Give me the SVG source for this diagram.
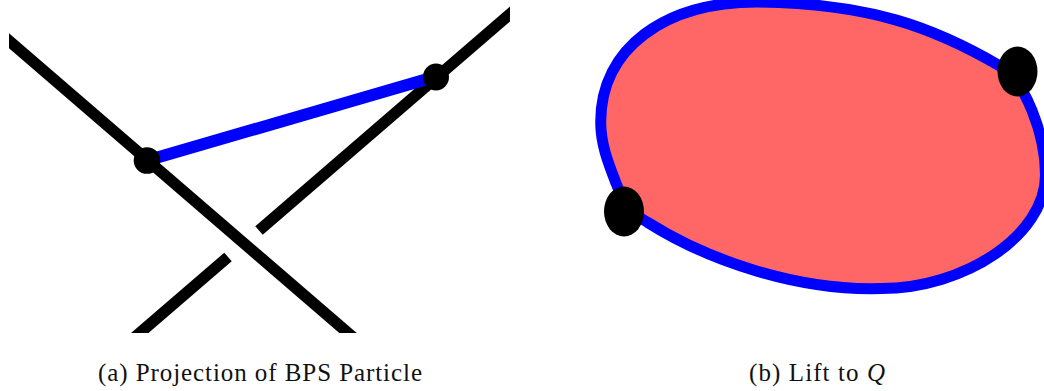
<svg xmlns="http://www.w3.org/2000/svg" width="1044" height="391" viewBox="0 0 1044 391">
<style>
.k{fill:none;stroke:#000;stroke-width:11.4}
.b{stroke:#0000ff;stroke-width:12;fill:none}
.d{fill:#000}
.t{font-family:"Liberation Serif","Times New Roman",serif;font-size:25px;fill:#111}
</style>
<defs>
<clipPath id="ca"><rect x="9" y="0" width="501" height="333"/></clipPath>
<filter id="soft" x="-5%" y="-5%" width="110%" height="110%"><feGaussianBlur stdDeviation="0.6"/></filter>
</defs>
<rect width="1044" height="391" fill="#fff"/>
<g id="connectors" clip-path="url(#ca)">
<line id="strand-over" class="k" x1="0" y1="33" x2="360" y2="343.3"/>
<line id="strand-upper" class="k" x1="520" y1="5.4" x2="259" y2="230.5"/>
<line id="strand-lower" class="k" x1="228" y1="257" x2="120" y2="350"/>
<line id="particle" class="b" x1="147" y1="160.5" x2="436" y2="76.5"/>
</g>
<g id="node-a1"><circle class="d" cx="147" cy="160.5" r="13.3"/></g>
<g id="node-a2"><ellipse class="d" cx="436" cy="77" rx="13" ry="13.4"/></g>
<g id="lift" filter="url(#soft)">
<path id="disc" d="M600.7 122C600.7 48 665 2 757 2C870 3 935 28 1000 66C1025 80 1045.5 135 1045.5 175C1045.5 235 965 288.5 881 288.5C800 291 710 262 647 222C632 214 622 200 616 183C609 165 600.7 145 600.7 122Z" fill="#ff6666" stroke="#0000ff" stroke-width="11"/>
<g id="node-b1"><ellipse class="d" cx="624" cy="211.5" rx="20" ry="25"/></g>
<g id="node-b2"><ellipse class="d" cx="1017.5" cy="71.5" rx="20" ry="25"/></g>
</g>
<text id="caption-a" class="t" x="98" y="381" textLength="324" lengthAdjust="spacing">(a) Projection of BPS Particle</text>
<text id="caption-b" class="t" x="749" y="381" textLength="136" lengthAdjust="spacing">(b) Lift to <tspan font-style="italic">Q</tspan></text>
</svg>
